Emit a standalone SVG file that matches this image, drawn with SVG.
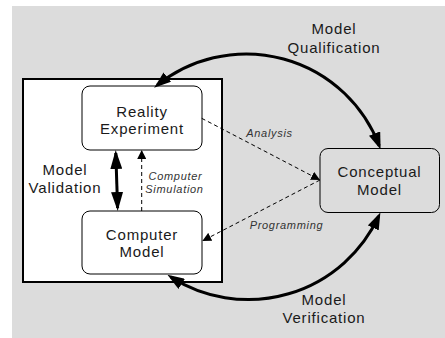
<svg xmlns="http://www.w3.org/2000/svg" width="445" height="338" viewBox="0 0 445 338">
<style>
.lbl{font-family:"Liberation Sans",Arial,sans-serif;font-size:15px;fill:#1a1a1a;text-anchor:middle;letter-spacing:0.8px}
.it{font-family:"Liberation Sans",Arial,sans-serif;font-size:11px;font-style:italic;fill:#333;text-anchor:middle;letter-spacing:0.7px}
.node{fill:#fff;stroke:#000;stroke-width:1}
.thick{fill:none;stroke:#000;stroke-width:3}
.dash{fill:none;stroke:#000;stroke-width:1;stroke-dasharray:4,3}
</style>
<defs>
<marker id="big" markerUnits="userSpaceOnUse" markerWidth="17" markerHeight="12" refX="13" refY="6" orient="auto-start-reverse" viewBox="0 0 17 12">
<path d="M0,0 L17,6 L0,12 z" fill="#000"/>
</marker>
<marker id="bigv" markerUnits="userSpaceOnUse" markerWidth="19" markerHeight="12" refX="16" refY="6" orient="auto-start-reverse" viewBox="0 0 19 12">
<path d="M0,0 L19,6 L0,12 z" fill="#000"/>
</marker>
<marker id="thin" markerUnits="userSpaceOnUse" markerWidth="9" markerHeight="9" refX="9" refY="4.5" orient="auto" viewBox="0 0 9 9">
<path d="M0,0 L9,4.5 L0,9 z" fill="#000"/>
</marker>
</defs>
<rect x="12" y="6" width="433" height="332" fill="#dcdcdc"/>
<rect x="23" y="79" width="199" height="203" fill="#fff" stroke="#000" stroke-width="2"/>
<g id="reality">
<rect class="node" x="82" y="86" width="120" height="64" rx="8"/>
<text class="lbl" x="142" y="117">Reality</text>
<text class="lbl" x="142" y="134">Experiment</text>
</g>
<g id="computer">
<rect class="node" x="82" y="211" width="120" height="63" rx="8"/>
<text class="lbl" x="142" y="240">Computer</text>
<text class="lbl" x="142" y="257">Model</text>
</g>
<g id="conceptual">
<rect x="320" y="148.5" width="119.5" height="64" rx="8" fill="#dcdcdc" stroke="#000" stroke-width="1"/>
<text class="lbl" x="379.5" y="177">Conceptual</text>
<text class="lbl" x="379.5" y="195">Model</text>
</g>
<g id="connectors">
<path class="thick" d="M157.2,85.2 A142.3,142.3 0 0 1 379.2,145.7" marker-start="url(#big)" marker-end="url(#big)"/>
<path class="thick" d="M170.8,276.9 A143.7,143.7 0 0 0 378.7,216.1" marker-start="url(#big)" marker-end="url(#big)"/>
<path class="thick" d="M115.8,153 L117.6,208" marker-start="url(#bigv)" marker-end="url(#bigv)"/>
<path class="dash" d="M141.7,211 L141.7,150" marker-end="url(#thin)"/>
<path class="dash" d="M201.7,118.3 L320,180" marker-end="url(#thin)"/>
<path class="dash" d="M320,180 L202.3,241" marker-end="url(#thin)"/>
</g>
<g id="labels">
<text class="lbl" x="334" y="34">Model</text>
<text class="lbl" x="334" y="53">Qualification</text>
<text class="lbl" x="65" y="175">Model</text>
<text class="lbl" x="65" y="193">Validation</text>
<text class="lbl" x="324" y="305">Model</text>
<text class="lbl" x="324" y="323">Verification</text>
<text class="it" x="269.5" y="137">Analysis</text>
<text class="it" x="175.5" y="179.5">Computer</text>
<text class="it" x="174.5" y="193">Simulation</text>
<text class="it" x="286.5" y="228.5">Programming</text>
</g>
</svg>
